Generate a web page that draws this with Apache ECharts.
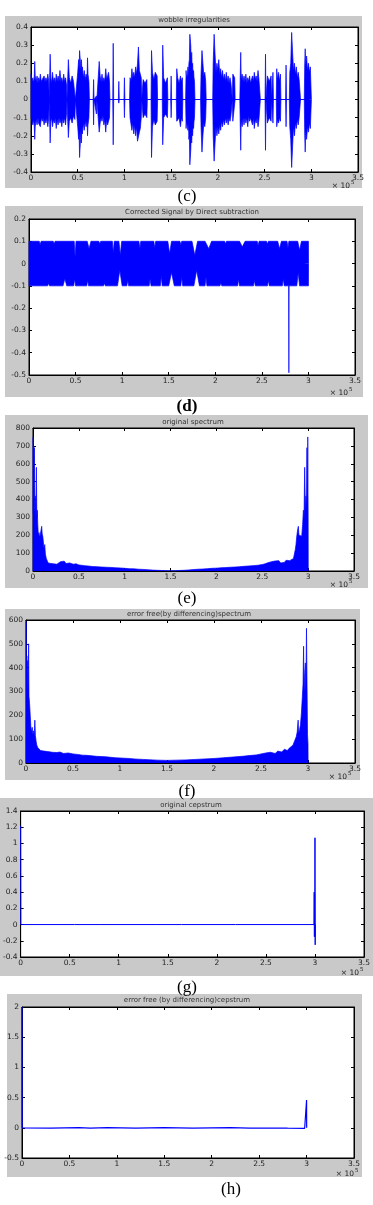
<!DOCTYPE html>
<html><head><meta charset="utf-8">
<script src="https://cdn.jsdelivr.net/npm/echarts@6/dist/echarts.min.js"></script>
<style>html,body{margin:0;padding:0;background:#fff}#c{width:373px;height:1205px}</style>
</head><body><div id="c"></div>
<script>
// ---------------- DATA ----------------
const titles = ['wobble irregularities','Corrected Signal by Direct subtraction','original spectrum','error free(by differencing)spectrum','original cepstrum','error free (by differencing)cepstrum'];
const captions = ['(c)','(d)','(e)','(f)','(g)','(h)'];
const xRange = [0, 3.5, 0.5];           // x 10^5
const yRanges = [[-0.4,0.4,0.1],[-0.5,0.2,0.1],[0,800,100],[0,600,100],[-0.4,1.4,0.2],[-0.5,2,0.5]];
const xScaleText = ['× 10','5'];

// (c) wobble irregularities: [x, upper envelope, lower envelope]
const cSig = [
[0,0,0],[0.001,0.14,-0.10],[0.01,0.10,-0.12],[0.02,0.12,-0.14],[0.03,0.09,-0.11],[0.035,0.13,-0.15],[0.04,0.21,-0.22],[0.045,0.13,-0.15],[0.055,0.10,-0.11],[0.065,0.13,-0.14],[0.075,0.09,-0.10],[0.08,0.12,-0.13],[0.09,0.10,-0.12],[0.1,0.14,-0.15],[0.11,0.10,-0.10],[0.12,0.11,-0.12],[0.13,0.09,-0.10],[0.14,0.13,-0.14],[0.15,0.10,-0.11],[0.16,0.12,-0.13],[0.17,0.10,-0.10],[0.18,0.14,-0.15],[0.19,0.10,-0.10],[0.195,0,0],
[0.205,0.25,-0.24],[0.212,0.12,-0.12],[0.22,0.09,-0.10],[0.23,0.15,-0.15],[0.24,0.10,-0.11],[0.25,0.12,-0.13],[0.26,0.09,-0.10],[0.27,0.14,-0.16],[0.28,0.10,-0.11],[0.29,0.13,-0.14],[0.3,0.10,-0.10],[0.31,0.16,-0.13],[0.32,0.10,-0.11],[0.33,0.12,-0.15],[0.34,0.09,-0.10],[0.35,0.14,-0.13],[0.36,0.10,-0.10],[0.37,0.12,-0.14],[0.38,0.08,-0.08],[0.385,0,0],
[0.395,0,0],[0.4,0.22,-0.21],[0.41,0.12,-0.12],[0.425,0.09,-0.10],[0.44,0.13,-0.13],[0.455,0.10,-0.09],[0.47,0.11,-0.11],[0.475,0,0],
[0.495,0,0],[0.5,0.15,-0.15],[0.51,0.22,-0.22],[0.515,0.17,-0.18],[0.52,0.27,-0.32],[0.53,0.20,-0.22],[0.535,0.16,-0.17],[0.54,0.22,-0.24],[0.545,0.15,-0.16],[0.55,0.18,-0.19],[0.56,0.12,-0.13],[0.57,0.16,-0.17],[0.58,0.11,-0.12],[0.59,0.14,-0.15],[0.6,0.12,-0.12],[0.605,0.23,-0.20],[0.61,0.14,-0.14],[0.62,0.10,-0.10],[0.625,0,0],
[0.665,0,0],[0.67,0.11,-0.14],[0.675,0,0],[0.695,0,0],[0.7,0.02,-0.08],[0.705,0,0],
[0.725,0,0],[0.73,0.21,-0.18],[0.74,0.13,-0.13],[0.75,0.10,-0.10],[0.76,0.14,-0.12],[0.77,0.10,-0.09],[0.78,0.12,-0.14],[0.79,0.10,-0.11],[0.8,0.17,-0.18],[0.81,0.11,-0.11],[0.82,0.13,-0.14],[0.83,0.15,-0.12],[0.84,0.10,-0.10],[0.845,0,0],
[0.875,0,0],[0.88,0.31,-0.25],[0.885,0,0],[0.935,0,0],[0.94,0.10,-0.02],[0.945,0,0],[0.995,0,0],[1.0,0.12,-0.10],[1.005,0,0],
[1.055,0,0],[1.06,0.12,-0.10],[1.07,0.10,-0.10],[1.08,0.17,-0.17],[1.09,0.12,-0.13],[1.1,0.15,-0.19],[1.11,0.12,-0.14],[1.12,0.18,-0.20],[1.13,0.14,-0.15],[1.14,0.20,-0.23],[1.15,0.29,-0.22],[1.16,0.16,-0.18],[1.17,0.17,-0.16],[1.18,0.12,-0.10],[1.185,0,0],
[1.195,0,0],[1.2,0.11,-0.10],[1.22,0.09,-0.08],[1.24,0.11,-0.10],[1.245,0,0],
[1.285,0,0],[1.29,0.27,-0.32],[1.3,0.15,-0.15],[1.315,0.11,-0.11],[1.33,0.15,-0.14],[1.35,0.13,-0.12],[1.355,0,0],
[1.405,0,0],[1.41,0.30,-0.25],[1.42,0.12,-0.10],[1.44,0.09,-0.08],[1.46,0.12,-0.10],[1.465,0,0],[1.495,0,0],[1.5,0.13,-0.10],[1.505,0,0],
[1.555,0,0],[1.56,0.17,-0.12],[1.57,0.12,-0.12],[1.585,0.09,-0.10],[1.6,0.13,-0.15],[1.61,0.10,-0.10],[1.62,0.12,-0.12],[1.625,0,0],
[1.655,0,0],[1.66,0.16,-0.16],[1.665,0.12,-0.12],[1.675,0.14,-0.13],[1.68,0.18,-0.17],[1.685,0.13,-0.13],[1.69,0.20,-0.22],[1.695,0.22,-0.20],[1.7,0.36,-0.36],[1.71,0.30,-0.28],[1.715,0.20,-0.20],[1.72,0.26,-0.24],[1.725,0.18,-0.17],[1.73,0.20,-0.20],[1.735,0.14,-0.14],[1.74,0.16,-0.16],[1.745,0.12,-0.12],[1.75,0.10,-0.10],[1.755,0,0],
[1.815,0,0],[1.82,0.14,-0.15],[1.83,0.27,-0.29],[1.84,0.20,-0.20],[1.85,0.13,-0.13],[1.86,0.15,-0.15],[1.87,0.10,-0.10],[1.875,0,0],
[1.945,0,0],[1.95,0.20,-0.20],[1.96,0.36,-0.34],[1.97,0.25,-0.24],[1.98,0.15,-0.15],[1.99,0.20,-0.20],[2.0,0.16,-0.15],[2.01,0.22,-0.19],[2.02,0.14,-0.14],[2.03,0.17,-0.17],[2.04,0.12,-0.12],[2.05,0.16,-0.15],[2.06,0.11,-0.11],[2.07,0.14,-0.14],[2.08,0.10,-0.10],[2.09,0.15,-0.13],[2.1,0.10,-0.10],[2.11,0.13,-0.14],[2.12,0.09,-0.10],[2.13,0.12,-0.12],[2.14,0.09,-0.09],[2.15,0.10,-0.10],[2.155,0,0],
[2.16,0.14,-0.12],[2.18,0.12,-0.11],[2.185,0,0],
[2.235,0,0],[2.24,0.14,-0.15],[2.245,0.26,-0.28],[2.25,0.11,-0.11],[2.26,0.14,-0.15],[2.27,0.10,-0.10],[2.28,0.13,-0.14],[2.29,0.10,-0.10],[2.3,0.14,-0.13],[2.31,0.09,-0.10],[2.32,0.12,-0.15],[2.33,0.10,-0.09],[2.34,0.13,-0.12],[2.35,0.09,-0.10],[2.36,0.10,-0.10],[2.37,0.13,-0.14],[2.38,0.10,-0.10],[2.39,0.15,-0.16],[2.4,0.11,-0.11],[2.41,0.13,-0.13],[2.42,0.10,-0.10],[2.43,0.16,-0.15],[2.44,0.11,-0.11],[2.45,0.10,-0.10],[2.455,0,0],
[2.505,0,0],[2.51,0.25,-0.28],[2.515,0,0],[2.525,0,0],[2.53,0.13,-0.13],[2.55,0.10,-0.10],[2.57,0.13,-0.12],[2.575,0,0],
[2.585,0,0],[2.59,0.15,-0.13],[2.595,0,0],[2.625,0,0],[2.63,0.17,-0.15],[2.64,0.11,-0.11],[2.65,0.15,-0.13],[2.66,0.10,-0.10],[2.67,0.14,-0.12],[2.675,0,0],
[2.725,0,0],[2.73,0.19,-0.15],[2.735,0,0],
[2.765,0,0],[2.77,0.15,-0.15],[2.78,0.20,-0.22],[2.79,0.37,-0.375],[2.8,0.26,-0.26],[2.81,0.16,-0.15],[2.82,0.20,-0.20],[2.83,0.14,-0.13],[2.84,0.18,-0.16],[2.85,0.12,-0.11],[2.86,0.15,-0.14],[2.87,0.11,-0.10],[2.88,0.10,-0.10],[2.885,0,0],
[2.925,0,0],[2.93,0.20,-0.20],[2.935,0.28,-0.29],[2.94,0.18,-0.17],[2.95,0.24,-0.22],[2.96,0.16,-0.15],[2.97,0.20,-0.18],[2.98,0.15,-0.13],[2.99,0.18,-0.16],[3.0,0.17,-0.16],[3.001,0,0]
];

// (d) corrected signal: upper and lower envelopes [x, y]
const dUpper = [[0,0],[0.001,0.1],[0.11,0.1],[0.12,0.085],[0.13,0.1],[0.26,0.1],[0.27,0.088],[0.28,0.1],[0.485,0.1],[0.495,0.03],[0.505,0.1],
[0.625,0.1],[0.645,0.067],[0.665,0.1],[0.75,0.1],[0.76,0.088],[0.77,0.1],[0.895,0.1],[0.905,0.045],[0.915,0.1],[0.965,0.1],[0.98,0.037],[0.995,0.1],
[1.18,0.1],[1.19,0.067],[1.2,0.1],[1.34,0.1],[1.35,0.07],[1.36,0.1],[1.49,0.1],[1.51,0.045],[1.53,0.1],[1.62,0.1],[1.63,0.085],[1.64,0.1],
[1.75,0.1],[1.78,0.037],[1.81,0.1],[1.89,0.1],[1.93,0.067],[1.96,0.1],[2.1,0.1],[2.11,0.088],[2.12,0.1],[2.26,0.1],[2.29,0.075],[2.32,0.1],
[2.45,0.1],[2.46,0.08],[2.47,0.1],[2.55,0.1],[2.56,0.087],[2.57,0.1],[2.67,0.1],[2.69,0.067],[2.71,0.1],[2.77,0.1],[2.78,0.07],[2.79,0.1],
[2.885,0.1],[2.905,0.06],[2.925,0.1],[3.0,0.1],[3.001,0]];
const dLower = [[0,0],[0.001,-0.1],[0.2,-0.1],[0.21,-0.088],[0.22,-0.1],[0.365,-0.1],[0.385,-0.068],[0.405,-0.1],[0.48,-0.1],[0.49,-0.068],[0.5,-0.1],
[0.62,-0.1],[0.63,-0.075],[0.64,-0.1],[0.8,-0.1],[0.81,-0.088],[0.82,-0.1],[0.95,-0.1],[0.975,-0.03],[1.0,-0.1],[1.05,-0.1],[1.06,-0.075],[1.07,-0.1],
[1.29,-0.1],[1.3,-0.068],[1.31,-0.1],[1.41,-0.1],[1.42,-0.055],[1.43,-0.1],[1.5,-0.1],[1.53,-0.04],[1.56,-0.1],[1.63,-0.1],[1.64,-0.06],[1.65,-0.1],
[1.77,-0.1],[1.8,-0.03],[1.83,-0.1],[1.89,-0.1],[1.9,-0.06],[1.91,-0.1],[2.05,-0.1],[2.06,-0.087],[2.07,-0.1],[2.24,-0.1],[2.25,-0.07],[2.26,-0.1],
[2.41,-0.1],[2.42,-0.075],[2.43,-0.1],[2.56,-0.1],[2.57,-0.075],[2.58,-0.1],[2.72,-0.1],[2.73,-0.068],[2.74,-0.1],
[2.788,-0.1],[2.79,-0.49],[2.792,-0.1],[2.875,-0.1],[2.89,-0.04],[2.905,-0.1],[3.0,-0.1],[3.001,0]];

// (e) original spectrum [x, magnitude]
const eSpec = [[0,0],[0.002,750],[0.004,320],[0.007,700],[0.011,360],[0.015,690],[0.02,330],[0.025,420],[0.03,300],[0.037,580],[0.042,300],[0.047,340],[0.052,260],[0.058,200],[0.065,215],[0.072,190],[0.08,205],[0.088,230],[0.095,250],[0.1,210],[0.108,190],[0.115,150],[0.122,120],[0.128,148],[0.135,95],[0.145,70],[0.155,58],[0.165,45],[0.18,55],[0.195,42],[0.21,52],[0.225,40],[0.24,50],[0.26,38],[0.28,48],[0.3,52],[0.32,44],[0.34,55],[0.36,42],[0.38,50],[0.4,45],[0.42,48],[0.44,38],[0.47,40],[0.5,34],[0.53,32],[0.56,30],[0.6,28],[0.65,25],[0.7,24],[0.75,22],[0.8,21],[0.85,20],[0.9,18],[0.95,17],[1.0,15],[1.05,13],[1.1,12],[1.15,10],[1.2,9],[1.25,7],[1.3,5],[1.35,4],[1.4,3],[1.45,2],[1.5,1],[1.55,2],[1.6,3],[1.65,4],[1.7,6],[1.75,8],[1.8,10],[1.85,11],[1.9,13],[1.95,15],[2.0,16],[2.05,18],[2.1,19],[2.15,21],[2.2,22],[2.25,24],[2.3,26],[2.35,28],[2.4,30],[2.45,32],[2.5,36],[2.53,40],[2.56,46],[2.58,40],[2.6,52],[2.62,44],[2.64,56],[2.66,48],[2.68,58],[2.7,45],[2.72,55],[2.74,48],[2.76,60],[2.78,50],[2.8,58],[2.82,55],[2.84,70],[2.85,95],[2.86,120],[2.868,150],[2.875,190],[2.885,230],[2.893,250],[2.9,200],[2.91,190],[2.92,205],[2.93,195],[2.94,260],[2.948,340],[2.955,300],[2.962,580],[2.97,330],[2.976,420],[2.982,360],[2.987,690],[2.992,330],[2.996,750],[3.0,300],[3.001,0]];

// (f) error free spectrum [x, magnitude]
const fSpec = [[0,0],[0.002,593],[0.005,300],[0.009,450],[0.013,280],[0.018,430],[0.023,300],[0.028,500],[0.032,280],[0.038,250],[0.045,200],[0.052,150],[0.06,130],[0.066,150],[0.072,120],[0.08,135],[0.088,110],[0.094,180],[0.1,115],[0.108,90],[0.115,75],[0.125,65],[0.14,58],[0.155,52],[0.17,60],[0.19,50],[0.21,55],[0.23,48],[0.25,52],[0.28,45],[0.3,50],[0.33,44],[0.36,46],[0.4,40],[0.45,42],[0.5,38],[0.55,36],[0.6,33],[0.65,32],[0.7,30],[0.75,28],[0.8,27],[0.85,26],[0.9,24],[0.95,22],[1.0,21],[1.05,20],[1.1,19],[1.15,17],[1.2,16],[1.25,15],[1.3,14],[1.35,13],[1.4,12],[1.5,11],[1.6,12],[1.7,13],[1.8,15],[1.9,17],[2.0,19],[2.1,22],[2.2,25],[2.3,28],[2.4,32],[2.45,34],[2.5,38],[2.55,42],[2.6,45],[2.65,40],[2.68,50],[2.72,46],[2.75,58],[2.78,52],[2.8,62],[2.82,68],[2.84,75],[2.86,95],[2.875,110],[2.885,130],[2.895,180],[2.9,125],[2.91,140],[2.92,160],[2.93,210],[2.94,280],[2.947,330],[2.953,490],[2.958,300],[2.965,380],[2.972,420],[2.978,300],[2.984,565],[2.99,320],[2.995,120],[3.0,80],[3.001,0]];

// (g) original cepstrum [x, value]
const gCep = [[0,1.22],[0.002,0],[0.55,0],[0.552,0.012],[0.554,-0.012],[0.556,0],[0.81,0],[0.812,0.012],[0.814,-0.012],[0.816,0],[1.37,0],[1.372,0.012],[1.374,-0.012],[1.376,0],[1.64,0],[1.642,0.012],[1.644,-0.012],[1.646,0],[2.19,0],[2.192,0.012],[2.194,-0.012],[2.196,0],[2.46,0],[2.462,0.012],[2.464,-0.012],[2.466,0],[2.99,0],[2.992,0.4],[2.994,-0.15],[2.996,0.38],[2.998,-0.14],[3.0,1.07],[3.002,-0.25],[3.004,0]];

// (h) error free cepstrum [x, value]
const hCep = [[0,2.0],[0.002,0],[0.3,-0.006],[0.6,0.003],[0.72,-0.007],[0.9,0.004],[1.2,-0.006],[1.5,0.002],[1.8,-0.005],[2.2,0.003],[2.4,-0.006],[2.6,-0.004],[2.8,-0.007],[2.98,-0.008],[2.998,-0.008],[3.0,0.46],[3.001,0]];

// ---------------- LAYOUT ----------------
const layout = [
 {g:[31,27,327,145],  box:[5,16,357,172],  t:[194,20],   s:[355,186],  c:[187,197,false]},
 {g:[29,219,326,156], box:[5,206,358,191], t:[192,212],  s:[353,393],  c:[187,407,true]},
 {g:[33,428,321,143], box:[5,415,363,173], t:[193,422],  s:[353,585],  c:[187,599,false]},
 {g:[26,620,329,143], box:[5,609,355,171], t:[189,614],  s:[352,777],  c:[187,792,false]},
 {g:[20,811,345,146], box:[0,798,373,178], t:[191,805],  s:[364,973],  c:[187,988,false]},
 {g:[22,1007,332,151],box:[7,994,355,183], t:[187,1000], s:[359,1174], c:[231,1190,false]}
];

const BLUE = '#0000ff';
const FONT = '"DejaVu Sans", sans-serif';
const grids=[], xAxes=[], yAxes=[], series=[], els=[];

layout.forEach((L,i)=>{
  grids.push({left:L.g[0], top:L.g[1], width:L.g[2], height:L.g[3], show:true, backgroundColor:'#fff', borderColor:'#000', borderWidth:1});
  const common = {gridIndex:i, type:'value', splitLine:{show:false},
    axisLine:{show:true,onZero:false,lineStyle:{color:'#000',width:1}},
    axisTick:{show:true,inside:true,length:3,lineStyle:{color:'#000',width:1}}};
  const xa = Object.assign({}, common, {min:xRange[0], max:xRange[1], interval:xRange[2]});
  xAxes.push(Object.assign({}, xa, {position:'bottom', axisLabel:{show:true,fontSize:7.5,fontFamily:FONT,color:'#222',margin:2,showMinLabel:true,showMaxLabel:true}}));
  xAxes.push(Object.assign({}, xa, {position:'top', axisLabel:{show:false}}));
  const yr = yRanges[i];
  const ya = Object.assign({}, common, {min:yr[0], max:yr[1], interval:yr[2]});
  yAxes.push(Object.assign({}, ya, {position:'left', axisLabel:{show:true,fontSize:7.5,fontFamily:FONT,color:'#222',margin:3,showMinLabel:true,showMaxLabel:true}}));
  yAxes.push(Object.assign({}, ya, {position:'right', axisLabel:{show:false}}));

  els.push({type:'rect', z:-10, silent:true, shape:{x:L.box[0],y:L.box[1],width:L.box[2],height:L.box[3]}, style:{fill:'#c9c9c9'}});
  els.push({type:'text', x:L.t[0], y:L.t[1], silent:true, style:{text:titles[i], font:'7px '+FONT, fill:'#333', textAlign:'center', textVerticalAlign:'middle'}});
  els.push({type:'text', x:L.s[0]-5, y:L.s[1], silent:true, style:{text:xScaleText[0], font:'7.5px '+FONT, fill:'#222', textAlign:'right', textVerticalAlign:'middle'}});
  els.push({type:'text', x:L.s[0]-4, y:L.s[1]-3, silent:true, style:{text:xScaleText[1], font:'5.5px '+FONT, fill:'#222', textAlign:'left', textVerticalAlign:'middle'}});
  els.push({type:'text', x:L.c[0], y:L.c[1], silent:true, style:{text:captions[i], font:(L.c[2]?'bold ':'')+'17px "Liberation Serif", serif', fill:'#000', textAlign:'center', textVerticalAlign:'middle'}});
});

function line(i, data, area, w, origin){
  const a = area ? {color:BLUE, opacity:1} : undefined;
  if (a && origin !== undefined) a.origin = origin;
  return {type:'line', xAxisIndex:2*i, yAxisIndex:2*i, data:data, symbol:'none', showSymbol:false, animation:false, clip:true,
    lineStyle:{color:BLUE, width:w}, areaStyle:a, z:2};
}
// upper envelopes fill down to just below zero so the two fills meet without a seam
series.push(line(0, cSig.map(p=>[p[0],p[1]]), true, 0.7, -0.003));
series.push(line(0, cSig.map(p=>[p[0],p[2]]), true, 0.7));
series.push(line(1, dUpper, true, 0.7, -0.003));
series.push(line(1, dLower, true, 0.7));
series.push(line(2, eSpec, true, 0.7));
series.push(line(3, fSpec, true, 0.7));
series.push(line(4, gCep, false, 1));
series.push(line(5, hCep, false, 1.2));

const chart = echarts.init(document.getElementById('c'), null, {renderer:'canvas'});
chart.setOption({animation:false, grid:grids, xAxis:xAxes, yAxis:yAxes, series:series, graphic:{elements:els}});
</script></body></html>
